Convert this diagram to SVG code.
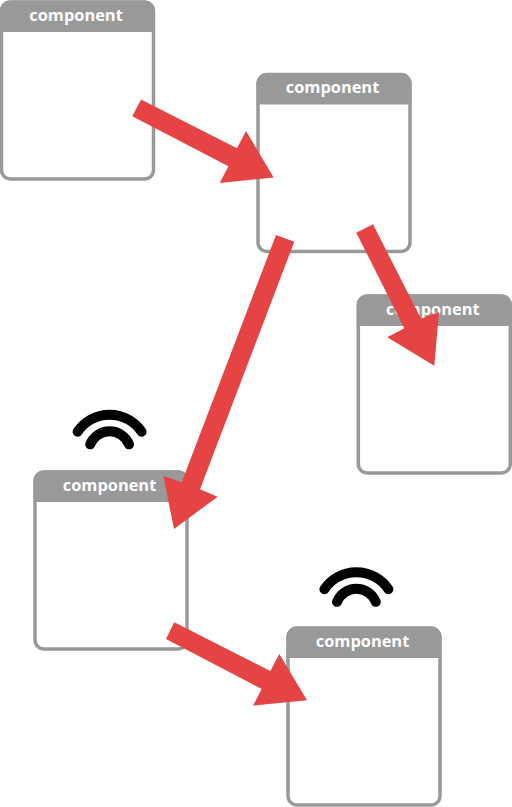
<svg xmlns="http://www.w3.org/2000/svg" width="512" height="807" viewBox="0 0 512 807">
<defs>
<g id="comp">
<rect x="1.5" y="1.500" width="152" height="177" rx="9" class="body"/>
<path class="head" d="M0 31.500V10A10 10 0 0 1 10 0H145A10 10 0 0 1 155 10V31.500Z"/>
<text x="76" y="20" class="label">component</text>
</g>
<g id="wifi">
<path class="wave" d="M-32 0A38.600 38.600 0 0 1 32 0"/>
<path class="wave" d="M-19.400 12.600A21 21 0 0 1 19.400 12.600"/>
</g>
</defs>
<style>
.body{fill:#fff;stroke:#999;stroke-width:3.500}
.head{fill:#999}
.label{font-family:"Open Sans",sans-serif;font-weight:700;font-size:16.400px;fill:#fff;text-anchor:middle}
.wave{fill:none;stroke:#000;stroke-width:10;stroke-linecap:round}
.arrow{fill:#e64444}
</style>
<rect width="512" height="807" fill="#fff"/>
<g id="node-1"><use href="#comp" y="0.500"/></g>
<g id="node-2"><use href="#comp" x="256.500" y="73"/></g>
<g id="node-3"><use href="#comp" x="356.800" y="294.500"/></g>
<g id="node-4"><use href="#comp" x="33.500" y="470.500"/><use href="#wifi" x="109.600" y="431.700"/></g>
<g id="node-5"><use href="#comp" x="286.500" y="626.500"/><use href="#wifi" x="356.400" y="589.200"/></g>
<g id="connectors">
<polygon class="arrow" points="141,99.500 237,148.200 246,131 273.700,177.500 219.700,182.900 228.400,166.200 132.300,116.300"/>
<polygon class="arrow" points="276,235 294.300,241.700 200,489.300 217.700,496.700 174,529 163.300,475.700 181.700,482.300"/>
<polygon class="arrow" points="373,224.300 421,318.700 439,312 434.300,365.700 387.300,337.300 404.300,328.300 356.300,232.700"/>
<polygon class="arrow" points="174.300,622.300 270.300,671 279.300,654 307,700.300 253,705.700 261.700,689 166,639"/>
</g>
</svg>
